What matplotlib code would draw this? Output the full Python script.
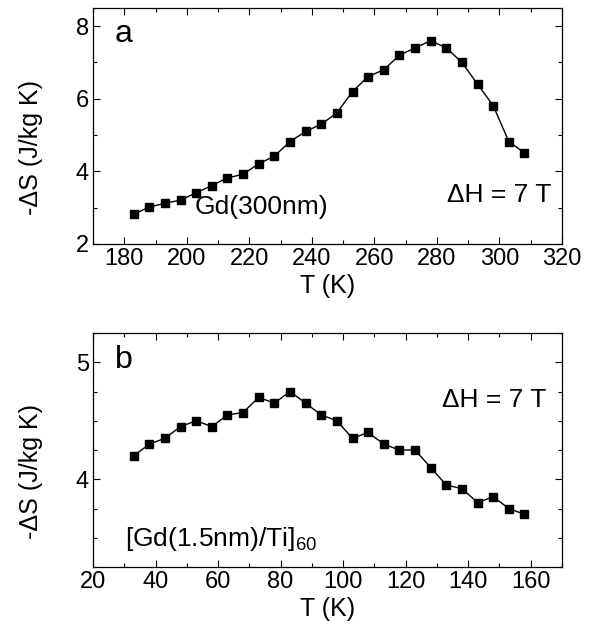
import matplotlib
matplotlib.use("Agg")
import matplotlib.pyplot as plt
from matplotlib.ticker import MultipleLocator

plt.rcParams['font.family'] = ['Liberation Sans', 'DejaVu Sans']

# Panel a: Gd(300nm)
T_a = [183, 188, 193, 198, 203, 208, 213, 218, 223, 228, 233, 238, 243,
       248, 253, 258, 263, 268, 273, 278, 283, 288, 293, 298, 303, 308]
S_a = [2.82, 3.02, 3.12, 3.21, 3.41, 3.61, 3.82, 3.92, 4.21, 4.42, 4.82,
       5.10, 5.30, 5.61, 6.20, 6.61, 6.80, 7.20, 7.40, 7.60, 7.40, 7.00,
       6.40, 5.81, 4.82, 4.51]

# Panel b: [Gd(1.5nm)/Ti]60
T_b = [33, 38, 43, 48, 53, 58, 63, 68, 73, 78, 83, 88, 93, 98, 103, 108,
       113, 118, 123, 128, 133, 138, 143, 148, 153, 158]
S_b = [4.20, 4.30, 4.35, 4.45, 4.50, 4.45, 4.55, 4.57, 4.70, 4.65, 4.75,
       4.65, 4.55, 4.50, 4.35, 4.40, 4.30, 4.25, 4.25, 4.10, 3.95, 3.92,
       3.80, 3.85, 3.75, 3.70]

W, H = 596, 639
fig = plt.figure(figsize=(W / 100, H / 100), dpi=100)

def box(l, t, r, b):
    return [l / W, 1 - b / H, (r - l) / W, (b - t) / H]

ax1 = fig.add_axes(box(93, 8, 562, 244))
ax2 = fig.add_axes(box(93, 333, 562, 567))

fs_tick = 17
fs_lab = 18
fs_txt = 19
for ax in (ax1, ax2):
    ax.tick_params(which='both', direction='in', top=True, right=True,
                   labelsize=fs_tick, width=0.8, pad=3)
    ax.tick_params(which='major', length=5)
    ax.tick_params(which='minor', length=3)
    for s in ax.spines.values():
        s.set_linewidth(0.9)
    ax.set_xlabel('T (K)', fontsize=fs_lab, labelpad=3)
    ax.set_ylabel('-ΔS (J/kg K)', fontsize=fs_lab)
    ax.yaxis.set_label_coords(-0.107, 0.407)

ax1.plot(T_a, S_a, color='black', lw=1.0, marker='s', ms=6)
ax1.set_xlim(170, 320)
ax1.set_ylim(2, 8.5)
ax1.xaxis.set_major_locator(MultipleLocator(20))
ax1.xaxis.set_minor_locator(MultipleLocator(10))
ax1.yaxis.set_major_locator(MultipleLocator(2))
ax1.yaxis.set_minor_locator(MultipleLocator(1))
ax1.text(177, 7.78, 'a', fontsize=23, va='center', ha='left')
ax1.text(202.5, 3.03, 'Gd(300nm)', fontsize=fs_txt, va='center', ha='left')
ax1.text(316.5, 3.36, 'ΔH = 7 T', fontsize=fs_txt, va='center', ha='right')

ax2.plot(T_b, S_b, color='black', lw=1.0, marker='s', ms=6)
ax2.set_xlim(20, 170)
ax2.set_ylim(3.25, 5.25)
ax2.xaxis.set_major_locator(MultipleLocator(20))
ax2.xaxis.set_minor_locator(MultipleLocator(10))
ax2.yaxis.set_major_locator(MultipleLocator(1))
ax2.yaxis.set_minor_locator(MultipleLocator(0.25))
ax2.text(27, 5.02, 'b', fontsize=23, va='center', ha='left')
ax2.text(165, 4.68, 'ΔH = 7 T', fontsize=fs_txt, va='center', ha='right')
ax2.text(30.2, 3.49, r'[Gd(1.5nm)/Ti]$_{\mathregular{60}}$', fontsize=fs_txt,
         va='center', ha='left')

fig.savefig('out.png', dpi=100)
